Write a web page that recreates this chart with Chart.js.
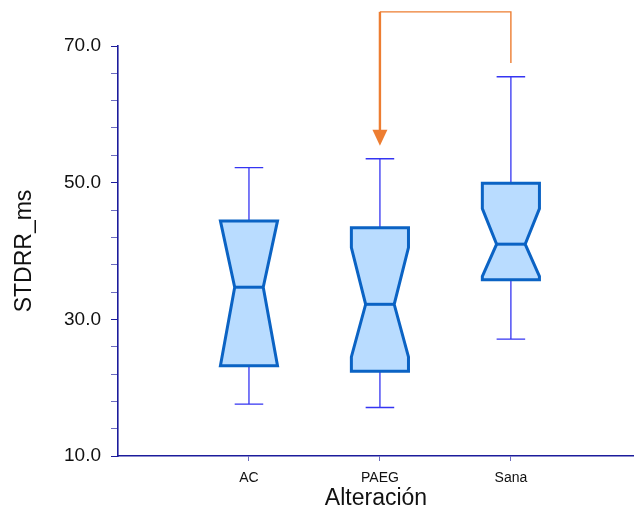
<!DOCTYPE html>
<html>
<head>
<meta charset="utf-8">
<script src="https://cdn.jsdelivr.net/npm/chart.js@4.4.1/dist/chart.umd.min.js"></script>
<style>
  body { margin: 0; background: #fff; }
  canvas { display: block; }
</style>
</head>
<body>
<canvas id="boxChart" width="634" height="514"></canvas>
<script>
// data
const categories = ['AC', 'PAEG', 'Sana'];
const whiskerLow = [17.6, 17.1, 27.1];
const q1 = [23.2, 22.4, 35.8];
const median = [34.7, 32.2, 41.0];
const q3 = [44.4, 43.4, 49.9];
const whiskerHigh = [52.2, 53.5, 65.5];
const notchLow = [23.2, 24.5, 36.3];
const notchHigh = [44.4, 40.5, 46.2];
const yTicks = [10, 30, 50, 70];

// comparison arrow: from Sana over to PAEG
const bracketFrom = 'Sana';
const bracketTo = 'PAEG';
const bracketStart = 67.5;
const bracketTop = 75;
const arrowTip = 55.4;

const axisBlue = '#1c1c9c';
const tickBlue = '#6c6cc0';
const orange = '#ed7d31';

// draw the notched boxes
const boxPlugin = {
  id: 'boxes',
  afterDatasetsDraw(chart) {
    const ctx = chart.ctx;
    const xs = chart.scales.x;
    const ys = chart.scales.y;
    categories.forEach((c, i) => {
      const xc = xs.getPixelForValue(i + 1);
      const h = xs.getPixelForValue(i + 1 + 0.218) - xc;
      const n = h * 0.5;
      const cap = h * 0.5;
      const y = v => ys.getPixelForValue(v);

      // whiskers
      ctx.save();
      ctx.strokeStyle = '#3535f2';
      ctx.lineWidth = 1.3;
      ctx.beginPath();
      ctx.moveTo(xc, y(whiskerHigh[i]));
      ctx.lineTo(xc, y(q3[i]));
      ctx.moveTo(xc, y(q1[i]));
      ctx.lineTo(xc, y(whiskerLow[i]));
      ctx.moveTo(xc - cap, y(whiskerHigh[i]));
      ctx.lineTo(xc + cap, y(whiskerHigh[i]));
      ctx.moveTo(xc - cap, y(whiskerLow[i]));
      ctx.lineTo(xc + cap, y(whiskerLow[i]));
      ctx.stroke();

      // box
      ctx.beginPath();
      ctx.moveTo(xc - h, y(q3[i]));
      ctx.lineTo(xc + h, y(q3[i]));
      ctx.lineTo(xc + h, y(notchHigh[i]));
      ctx.lineTo(xc + n, y(median[i]));
      ctx.lineTo(xc + h, y(notchLow[i]));
      ctx.lineTo(xc + h, y(q1[i]));
      ctx.lineTo(xc - h, y(q1[i]));
      ctx.lineTo(xc - h, y(notchLow[i]));
      ctx.lineTo(xc - n, y(median[i]));
      ctx.lineTo(xc - h, y(notchHigh[i]));
      ctx.closePath();
      ctx.fillStyle = '#b9dcff';
      ctx.fill();
      ctx.strokeStyle = '#0b63c4';
      ctx.lineWidth = 3;
      ctx.lineJoin = 'miter';
      ctx.stroke();

      ctx.beginPath();
      ctx.moveTo(xc - n, y(median[i]));
      ctx.lineTo(xc + n, y(median[i]));
      ctx.stroke();
      ctx.restore();
    });
  },
  afterDraw(chart) {
    // orange bracket with arrow head
    const ctx = chart.ctx;
    const xs = chart.scales.x;
    const ys = chart.scales.y;
    const x1 = xs.getPixelForValue(categories.indexOf(bracketFrom) + 1);
    const x2 = xs.getPixelForValue(categories.indexOf(bracketTo) + 1);
    const yTop = ys.getPixelForValue(bracketTop);
    const yTip = ys.getPixelForValue(arrowTip);
    ctx.save();
    ctx.strokeStyle = orange;
    ctx.lineWidth = 1.4;
    ctx.beginPath();
    ctx.moveTo(x1, ys.getPixelForValue(bracketStart));
    ctx.lineTo(x1, yTop);
    ctx.lineTo(x2, yTop);
    ctx.stroke();
    ctx.lineWidth = 2.4;
    ctx.beginPath();
    ctx.moveTo(x2, yTop);
    ctx.lineTo(x2, yTip - 14);
    ctx.stroke();
    ctx.fillStyle = orange;
    ctx.beginPath();
    ctx.moveTo(x2 - 7.5, yTip - 16);
    ctx.lineTo(x2 + 7.5, yTip - 16);
    ctx.lineTo(x2, yTip);
    ctx.closePath();
    ctx.fill();
    ctx.restore();
  }
};

new Chart(document.getElementById('boxChart'), {
  type: 'scatter',
  data: {
    datasets: [{
      data: median.map((m, i) => ({ x: i + 1, y: m })),
      pointRadius: 0
    }]
  },
  options: {
    responsive: false,
    animation: false,
    layout: { padding: { top: 46, right: 0, bottom: 0, left: 0 } },
    plugins: { legend: { display: false }, tooltip: { enabled: false } },
    scales: {
      x: {
        type: 'linear',
        min: 0,
        max: 3.94,
        afterBuildTicks: s => { s.ticks = categories.map((c, i) => ({ value: i + 1 })); },
        afterFit: s => { s.height = 58; },
        border: { color: axisBlue, width: 1.6 },
        grid: { drawOnChartArea: false, tickLength: 5, color: tickBlue },
        ticks: {
          padding: 9,
          color: '#111',
          font: { family: 'Liberation Sans, Arial', size: 14 },
          callback: v => categories[v - 1]
        },
        title: {
          display: true,
          text: 'Alteración',
          color: '#111',
          font: { family: 'Liberation Sans, Arial', size: 23 },
          padding: { top: 0, bottom: 2 }
        }
      },
      y: {
        min: 10,
        max: 70,
        afterBuildTicks: s => {
          const t = [];
          for (let v = yTicks[0]; v <= yTicks[yTicks.length - 1]; v += 4) t.push({ value: v });
          s.ticks = t;
        },
        afterFit: s => { s.width = 118; },
        border: { color: axisBlue, width: 1.6 },
        grid: {
          drawOnChartArea: false,
          tickLength: 7,
          color: c => yTicks.includes(c.tick.value) ? axisBlue : tickBlue
        },
        ticks: {
          padding: 10,
          color: '#111',
          font: { family: 'Liberation Sans, Arial', size: 19 },
          callback: v => yTicks.includes(v) ? v.toFixed(1) : ''
        },
        title: {
          display: true,
          text: 'STDRR_ms',
          color: '#111',
          font: { family: 'Liberation Sans, Arial', size: 23 },
          padding: { top: 11, bottom: 0 }
        }
      }
    }
  },
  plugins: [boxPlugin]
});
</script>
</body>
</html>
